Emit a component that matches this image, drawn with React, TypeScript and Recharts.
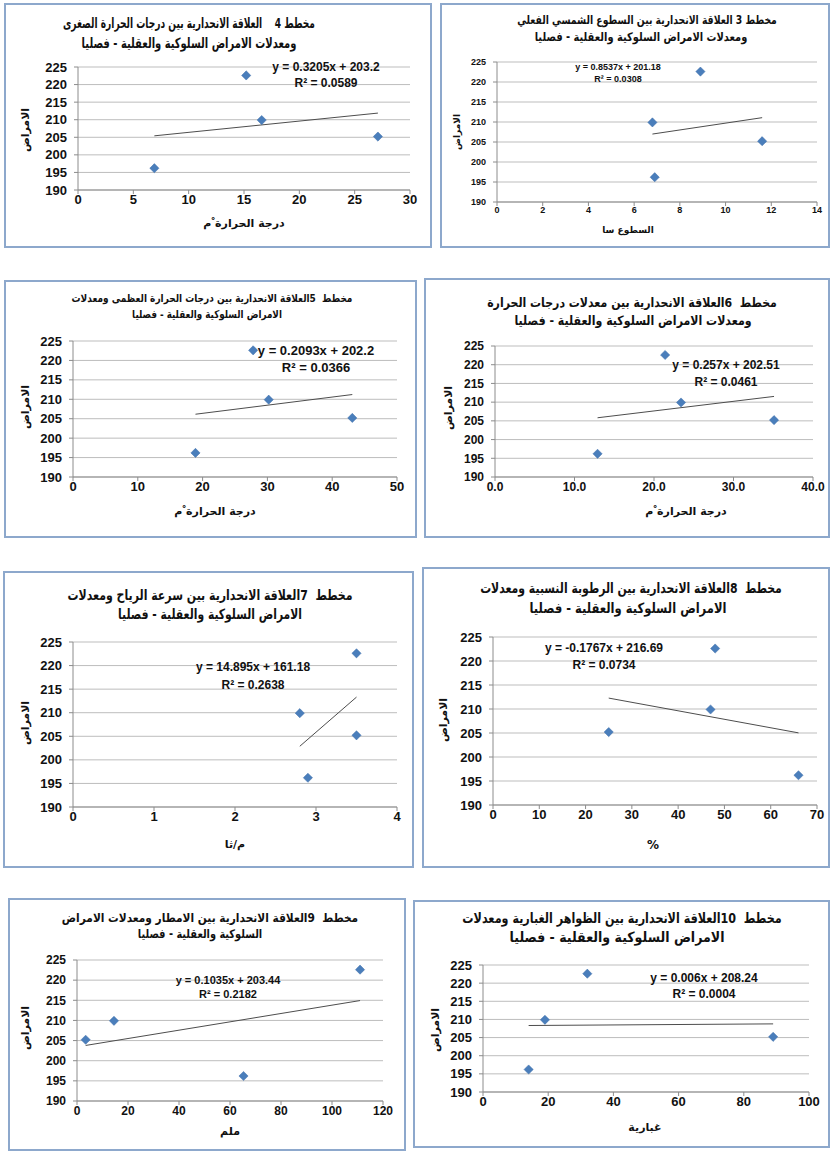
import React, { useLayoutEffect, useRef, useState } from 'react';
import { ScatterChart, Scatter, XAxis, YAxis, CartesianGrid, ReferenceLine } from 'recharts';

// ---- data ----
// seasonal rates of behavioural & mental diseases (winter, spring, autumn, summer)
const diseaseRate = [196.2, 222.6, 209.9, 205.2];
const minTemp = [6.9, 15.2, 16.6, 27.1];
const sunshine = [6.9, 8.9, 6.8, 11.6];
const maxTemp = [18.9, 27.8, 30.2, 43.1];
const meanTemp = [12.9, 21.4, 23.4, 35.1];
const windSpeed = [2.9, 3.5, 2.8, 3.5];
const humidity = [66, 48, 47, 25];
const rainfall = [65.3, 111, 14.5, 3.4];
const dust = [14, 32, 19, 89];

// regression [slope, intercept]
const trendMinTemp = [0.3205, 203.2];
const trendSunshine = [0.8537, 201.18];
const trendMaxTemp = [0.2093, 202.2];
const trendMeanTemp = [0.257, 202.51];
const trendWind = [14.895, 161.18];
const trendHumidity = [-0.1767, 216.69];
const trendRain = [0.1035, 203.44];
const trendDust = [0.006, 208.24];

const yTicks = [190, 195, 200, 205, 210, 215, 220, 225];
const ticks30 = [0, 5, 10, 15, 20, 25, 30];
const ticks14 = [0, 2, 4, 6, 8, 10, 12, 14];
const ticks50 = [0, 10, 20, 30, 40, 50];
const ticks40 = [0, 10, 20, 30, 40];
const ticks4 = [0, 1, 2, 3, 4];
const ticks70 = [0, 10, 20, 30, 40, 50, 60, 70];
const ticks120 = [0, 20, 40, 60, 80, 100, 120];
const ticks100 = [0, 20, 40, 60, 80, 100];

const yLabel = 'الامراض';

const ARABIC = "'DejaVu Sans', sans-serif";
const LATIN = "'Liberation Sans', Arial, sans-serif";

type Cfg = {
  panel: { l: number; t: number; w: number; h: number };
  plot: { x0: number; x1: number; yTop: number; yBot: number };
  xs: number[];
  trend: number[];
  xTicks: number[];
  decimals?: number;
  tickFont: number;
  title: [string, string];
  t1: [number, number, number]; // cx, cy, width
  t2: [number, number, number];
  titleFont: number;
  eq: string;
  r2: string;
  eqPos: [number, number, number];
  eqFont: number;
  yLab: [number, number, number];
  xLab: string;
  xLabPos: [number, number, number];
};

const configs: Cfg[] = [
  {
    panel: { l: 4, t: 3, w: 428, h: 245 },
    plot: { x0: 78, x1: 410, yTop: 67, yBot: 190 },
    xs: minTemp, trend: trendMinTemp, xTicks: ticks30, tickFont: 13,
    title: ['مخطط 4    العلاقة الانحدارية بين درجات الحرارة الصغرى', 'ومعدلات الامراض السلوكية والعقلية - فصليا'],
    t1: [189, 23, 252], t2: [189, 43, 215], titleFont: 14,
    eq: 'y = 0.3205x + 203.2', r2: '0.0589', eqPos: [326, 67, 83], eqFont: 12,
    yLab: [25, 130, 11], xLab: 'درجة الحرارة ْم', xLabPos: [244, 223, 11],
  },
  {
    panel: { l: 440, t: 3, w: 390, h: 245 },
    plot: { x0: 497, x1: 817, yTop: 62, yBot: 202 },
    xs: sunshine, trend: trendSunshine, xTicks: ticks14, tickFont: 9,
    title: ['مخطط 3 العلاقة الانحدارية بين السطوع الشمسي الفعلي', 'ومعدلات الامراض السلوكية والعقلية - فصليا'],
    t1: [647, 20, 260], t2: [641, 37, 213], titleFont: 12,
    eq: 'y = 0.8537x + 201.18', r2: '0.0308', eqPos: [618, 67, 79], eqFont: 9,
    yLab: [457, 132, 9], xLab: 'السطوع سا', xLabPos: [628, 230, 9],
  },
  {
    panel: { l: 4, t: 280, w: 413, h: 258 },
    plot: { x0: 73, x1: 397, yTop: 341, yBot: 477 },
    xs: maxTemp, trend: trendMaxTemp, xTicks: ticks50, tickFont: 13,
    title: ['مخطط  5العلاقة الانحدارية بين درجات الحرارة العظمى ومعدلات', 'الامراض السلوكية والعقلية - فصليا'],
    t1: [212, 298, 281], t2: [207, 314, 150], titleFont: 11,
    eq: 'y = 0.2093x + 202.2', r2: '0.0366', eqPos: [316, 350, 367], eqFont: 13,
    yLab: [25, 407, 11], xLab: 'درجة الحرارة ْم', xLabPos: [215, 511, 11],
  },
  {
    panel: { l: 424, t: 278, w: 406, h: 260 },
    plot: { x0: 495, x1: 813, yTop: 346, yBot: 477 },
    xs: meanTemp, trend: trendMeanTemp, xTicks: ticks40, decimals: 1, tickFont: 12,
    title: ['مخطط  6العلاقة الانحدارية بين معدلات درجات الحرارة', 'ومعدلات الامراض السلوكية والعقلية - فصليا'],
    t1: [632, 302, 290], t2: [633, 320, 237], titleFont: 13,
    eq: 'y = 0.257x + 202.51', r2: '0.0461', eqPos: [726, 365, 382], eqFont: 12,
    yLab: [448, 408, 11], xLab: 'درجة الحرارة ْم', xLabPos: [686, 511, 11],
  },
  {
    panel: { l: 3, t: 571, w: 411, h: 297 },
    plot: { x0: 73, x1: 397, yTop: 642, yBot: 807 },
    xs: windSpeed, trend: trendWind, xTicks: ticks4, tickFont: 13,
    title: ['مخطط  7العلاقة الانحدارية بين سرعة الرياح ومعدلات', 'الامراض السلوكية والعقلية - فصليا'],
    t1: [210, 595, 285], t2: [210, 614, 184], titleFont: 14,
    eq: 'y = 14.895x + 161.18', r2: '0.2638', eqPos: [253, 667, 685], eqFont: 12,
    yLab: [25, 723, 11], xLab: 'م/ثا', xLabPos: [235, 844, 11],
  },
  {
    panel: { l: 422, t: 567, w: 408, h: 301 },
    plot: { x0: 493, x1: 817, yTop: 637, yBot: 805 },
    xs: humidity, trend: trendHumidity, xTicks: ticks70, tickFont: 13,
    title: ['مخطط  8العلاقة الانحدارية بين الرطوبة النسبية ومعدلات', 'الامراض السلوكية والعقلية - فصليا'],
    t1: [631, 588, 302], t2: [628, 608, 197], titleFont: 14,
    eq: 'y = -0.1767x + 216.69', r2: '0.0734', eqPos: [604, 648, 665], eqFont: 12,
    yLab: [443, 720, 11], xLab: '%', xLabPos: [653, 845, 12],
  },
  {
    panel: { l: 8, t: 898, w: 398, h: 253 },
    plot: { x0: 77, x1: 383, yTop: 960, yBot: 1101 },
    xs: rainfall, trend: trendRain, xTicks: ticks120, tickFont: 12,
    title: ['مخطط  9العلاقة الانحدارية بين الامطار ومعدلات الامراض', 'السلوكية والعقلية - فصليا'],
    t1: [210, 918, 296], t2: [200, 934, 124], titleFont: 12,
    eq: 'y = 0.1035x + 203.44', r2: '0.2182', eqPos: [228, 980, 994], eqFont: 11,
    yLab: [25, 1028, 11], xLab: 'ملم', xLabPos: [230, 1131, 11],
  },
  {
    panel: { l: 413, t: 900, w: 417, h: 248 },
    plot: { x0: 483, x1: 809, yTop: 965, yBot: 1092 },
    xs: dust, trend: trendDust, xTicks: ticks100, tickFont: 13,
    title: ['مخطط  10العلاقة الانحدارية بين الظواهر الغبارية ومعدلات', 'الامراض السلوكية والعقلية - فصليا'],
    t1: [622, 918, 319], t2: [617, 937, 215], titleFont: 14,
    eq: 'y = 0.006x + 208.24', r2: '0.0004', eqPos: [704, 978, 994], eqFont: 12,
    yLab: [435, 1030, 11], xLab: 'غبارية', xLabPos: [645, 1127, 11],
  },
];

const Diamond = (props: any) => {
  const { cx, cy } = props;
  if (cx == null || cy == null) return <g />;
  const r = 4.6;
  return (
    <polygon
      points={`${cx},${cy - r} ${cx + r},${cy} ${cx},${cy + r} ${cx - r},${cy}`}
      fill="#4A7EBB"
      stroke="#3D6DA8"
      strokeWidth={0.5}
    />
  );
};

function Txt(props: {
  x: number; y: number; size: number; rtl?: boolean; rotate?: number; bold?: boolean; fit?: number;
  children: React.ReactNode;
}) {
  const { x, y, size, rtl, rotate, bold = true, fit, children } = props;
  const ref = useRef<HTMLDivElement>(null);
  const [s, setS] = useState(1);
  useLayoutEffect(() => {
    if (fit && ref.current) {
      const w = ref.current.offsetWidth;
      if (w > 0) setS(fit / w);
    }
  }, [fit]);
  return (
    <div
      ref={ref}
      style={{
        position: 'absolute',
        left: x,
        top: y,
        transform: `translate(-50%, -50%)${rotate ? ` rotate(${rotate}deg)` : ''}${fit ? ` scaleX(${s})` : ''}`,
        whiteSpace: 'pre',
        fontSize: size,
        fontWeight: bold ? 'bold' : 'normal',
        fontFamily: rtl ? ARABIC : LATIN,
        color: '#111',
        lineHeight: 1,
        direction: rtl ? 'rtl' : 'ltr',
      }}
    >
      {children}
    </div>
  );
}

const Y_AXIS_W = 40;
const X_AXIS_H = 30;

function Panel({ c }: { c: Cfg }) {
  const { panel, plot } = c;
  const data = c.xs.map((x, i) => ({ x, y: diseaseRate[i] }));
  const xMin = Math.min(...c.xs);
  const xMax = Math.max(...c.xs);
  const [m, b] = c.trend;
  const seg = [
    { x: xMin, y: m * xMin + b },
    { x: xMax, y: m * xMax + b },
  ];
  const margin = {
    top: plot.yTop - panel.t,
    right: panel.l + panel.w - plot.x1,
    bottom: panel.t + panel.h - plot.yBot - X_AXIS_H,
    left: plot.x0 - panel.l - Y_AXIS_W,
  };
  const tickStyle = { fontSize: c.tickFont, fill: '#111', fontFamily: LATIN, fontWeight: 'bold' as const };
  const axisLine = { stroke: '#8C8C8C' };
  return (
    <>
      <div style={{ position: 'absolute', left: panel.l, top: panel.t, width: panel.w, height: panel.h }}>
        <ScatterChart width={panel.w} height={panel.h} margin={margin}>
          <CartesianGrid vertical={false} stroke="#BDBDBD" />
          <XAxis
            type="number"
            dataKey="x"
            domain={[c.xTicks[0], c.xTicks[c.xTicks.length - 1]]}
            ticks={c.xTicks}
            interval={0}
            height={X_AXIS_H}
            tick={tickStyle}
            tickSize={4}
            tickMargin={1}
            axisLine={axisLine}
            tickLine={axisLine}
            tickFormatter={(v: number) => (c.decimals ? v.toFixed(c.decimals) : String(v))}
          />
          <YAxis
            type="number"
            dataKey="y"
            domain={[190, 225]}
            ticks={yTicks}
            interval={0}
            width={Y_AXIS_W}
            tick={tickStyle}
            tickSize={4}
            tickMargin={7}
            axisLine={axisLine}
            tickLine={axisLine}
          />
          <ReferenceLine segment={seg} stroke="#4D4D4D" strokeWidth={1} ifOverflow="visible" />
          <Scatter data={data} shape={Diamond} isAnimationActive={false} />
        </ScatterChart>
      </div>
      <div
        style={{
          position: 'absolute',
          left: panel.l,
          top: panel.t,
          width: panel.w,
          height: panel.h,
          border: '2px solid #8DA8CC',
          boxSizing: 'border-box',
          pointerEvents: 'none',
        }}
      />
      <Txt x={c.t1[0]} y={c.t1[1]} size={c.titleFont} rtl fit={c.t1[2]}>{c.title[0]}</Txt>
      <Txt x={c.t2[0]} y={c.t2[1]} size={c.titleFont} rtl fit={c.t2[2]}>{c.title[1]}</Txt>
      <Txt x={c.eqPos[0]} y={c.eqPos[1]} size={c.eqFont}>{c.eq}</Txt>
      <Txt x={c.eqPos[0]} y={c.eqPos[2]} size={c.eqFont}>R² = {c.r2}</Txt>
      <Txt x={c.yLab[0]} y={c.yLab[1]} size={c.yLab[2]} rtl rotate={-90}>{yLabel}</Txt>
      <Txt x={c.xLabPos[0]} y={c.xLabPos[1]} size={c.xLabPos[2]} rtl>{c.xLab}</Txt>
    </>
  );
}

export default function App() {
  return (
    <div
      style={{
        position: 'absolute',
        left: 0,
        top: 0,
        width: 831,
        height: 1152,
        background: '#fff',
        overflow: 'hidden',
      }}
    >
      {configs.map((c, i) => (
        <Panel key={i} c={c} />
      ))}
    </div>
  );
}
